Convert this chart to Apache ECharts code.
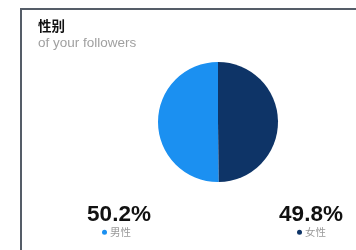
<!DOCTYPE html>
<html>
<head>
<meta charset="utf-8">
<script src="https://cdn.jsdelivr.net/npm/echarts@6/dist/echarts.min.js"></script>
<style>
  html, body { margin: 0; padding: 0; background: #fff; }
  #chart { width: 356px; height: 250px; }
</style>
</head>
<body>
<div id="chart"></div>
<script>
const categories = ['男性', '女性']
const values = [50.2, 49.8]
const colors = ['#1b90f1', '#0e3467']

const font = '"Liberation Sans", "Noto Sans CJK SC", sans-serif'
const cjk = '"Noto Sans CJK SC", sans-serif'
const centersX = [119, 311]
const legendX = [97, 292]

const chart = echarts.init(document.getElementById('chart'))

const titles = [
  {
    text: '性别',
    subtext: 'of your followers',
    left: 33,
    top: 14,
    itemGap: 4,
    textStyle: { fontSize: 13.5, fontWeight: 'bold', color: '#111', fontFamily: cjk },
    subtextStyle: { fontSize: 13.5, color: '#a0a0a0', fontFamily: font }
  }
]
values.forEach((v, i) => {
  titles.push({
    text: v.toFixed(1) + '%',
    left: centersX[i] - 5,
    top: 199,
    textAlign: 'center',
    textStyle: { fontSize: 22.5, fontWeight: 'bold', color: '#111', fontFamily: font }
  })
})

const legends = categories.map((c, i) => ({
  data: [c],
  left: legendX[i],
  top: 222,
  icon: 'circle',
  itemWidth: 5,
  itemHeight: 5,
  selectedMode: false,
  textStyle: { fontSize: 10.5, color: '#9a9a9a', fontFamily: cjk, padding: [0, 0, 0, -2] }
}))

chart.setOption({
  animation: false,
  title: titles,
  legend: legends,
  graphic: [
    {
      type: 'polyline',
      shape: { points: [[21, 260], [21, 9], [370, 9]] },
      style: { stroke: '#555d68', lineWidth: 2, fill: null },
      silent: true
    }
  ],
  series: [
    {
      type: 'pie',
      center: [218, 122],
      radius: [0, 60],
      startAngle: 90,
      clockwise: false,
      label: { show: false },
      labelLine: { show: false },
      itemStyle: { borderWidth: 0 },
      emphasis: { disabled: true },
      data: categories.map((c, i) => ({ name: c, value: values[i], itemStyle: { color: colors[i] } }))
    }
  ]
})
</script>
</body>
</html>
